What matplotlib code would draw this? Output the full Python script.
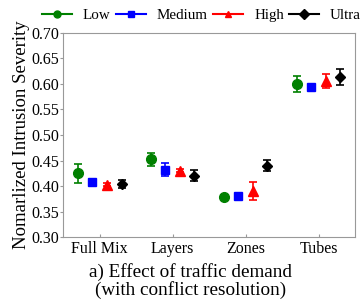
import matplotlib.pyplot as plt
import numpy as np

plt.rcParams['font.family'] = ['Liberation Serif', 'DejaVu Serif']

concepts = ["Full Mix", "Layers", "Zones", "Tubes"]
levels = ["Low", "Medium", "High", "Ultra"]

low_mean = [0.425, 0.452, 0.379, 0.600]
low_err = [0.019, 0.012, 0.003, 0.016]
medium_mean = [0.408, 0.432, 0.381, 0.595]
medium_err = [0.003, 0.013, 0.003, 0.003]
high_mean = [0.403, 0.430, 0.390, 0.606]
high_err = [0.003, 0.003, 0.018, 0.014]
ultra_mean = [0.404, 0.420, 0.440, 0.613]
ultra_err = [0.008, 0.011, 0.011, 0.016]

means = [low_mean, medium_mean, high_mean, ultra_mean]
errs = [low_err, medium_err, high_err, ultra_err]
colors = ["green", "blue", "red", "black"]
markers = ["o", "s", "^", "D"]
msizes = [7, 6, 7, 5]
offsets = [-0.3, -0.1, 0.1, 0.3]

fig = plt.figure(figsize=(3.63, 3.02), dpi=100)
ax = fig.add_axes([0.174, 0.215, 0.804, 0.676])

ind = np.arange(len(concepts))
for i in range(len(levels)):
    ax.errorbar(ind + offsets[i], means[i], yerr=errs[i], fmt=markers[i], color=colors[i],
                ms=msizes[i], capsize=3.2, elinewidth=1.2, capthick=1.2, label=levels[i])

ax.set_xlim(-0.5, 3.5)
ax.set_ylim(0.30, 0.70)
ax.set_yticks(np.arange(0.30, 0.701, 0.05))
ax.set_yticklabels(["%.2f" % v for v in np.arange(0.30, 0.701, 0.05)])
ax.set_xticks(ind)
ax.set_xticklabels(concepts)
ax.tick_params(axis="x", labelsize=11.5, direction="in", length=2, color="#999999", pad=3)
ax.tick_params(axis="y", labelsize=11.5, direction="out", length=2, color="#999999", pad=1)
for s in ax.spines.values():
    s.set_color("#999999")
ax.set_ylabel("Nomarlized Intrusion Severity", fontsize=13.5, labelpad=1)
ax.set_xlabel("a) Effect of traffic demand\n(with conflict resolution)", fontsize=13.8,
              linespacing=1.05)
ax.xaxis.set_label_coords(0.435, -0.125)

handles = [plt.Line2D([], [], color=c, marker=m, ms=5) for c, m in zip(colors, markers)]
fig.legend(handles, levels, loc="center left", bbox_to_anchor=(0.1157, 0.95), ncol=4, frameon=False,
           fontsize=10.8, handlelength=2.0, columnspacing=0.35, handletextpad=0.73, borderaxespad=0,
           borderpad=0)

fig.savefig("out.png", dpi=100)
